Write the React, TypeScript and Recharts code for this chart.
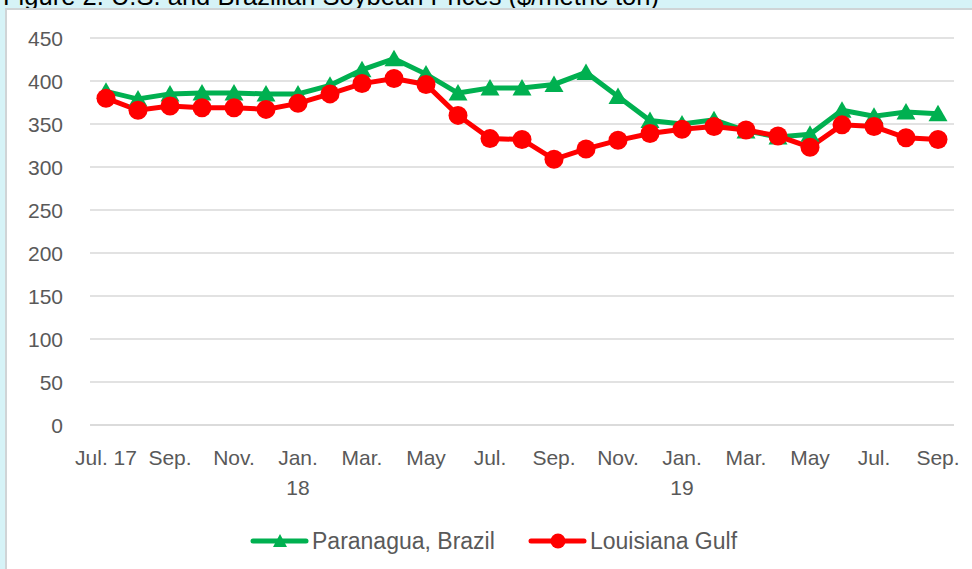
import React from "react";
import { LineChart, Line, XAxis, YAxis, CartesianGrid } from "recharts";

const categories = [
  "Jul. 17", "Aug. 17", "Sep. 17", "Oct. 17", "Nov. 17", "Dec. 17",
  "Jan. 18", "Feb. 18", "Mar. 18", "Apr. 18", "May 18", "Jun. 18",
  "Jul. 18", "Aug. 18", "Sep. 18", "Oct. 18", "Nov. 18", "Dec. 18",
  "Jan. 19", "Feb. 19", "Mar. 19", "Apr. 19", "May 19", "Jun. 19",
  "Jul. 19", "Aug. 19", "Sep. 19",
];

const tickLine1 = [
  "Jul. 17", "Aug.", "Sep.", "Oct.", "Nov.", "Dec.",
  "Jan.", "Feb.", "Mar.", "Apr.", "May", "Jun.",
  "Jul.", "Aug.", "Sep.", "Oct.", "Nov.", "Dec.",
  "Jan.", "Feb.", "Mar.", "Apr.", "May", "Jun.",
  "Jul.", "Aug.", "Sep.",
];
const tickLine2 = [
  "", "", "", "", "", "",
  "18", "", "", "", "", "",
  "", "", "", "", "", "",
  "19", "", "", "", "", "",
  "", "", "",
];

const paranagua = [388, 379, 385, 386, 386, 385, 385, 395, 413, 426, 408, 386, 392, 392, 396, 410, 382, 354, 350, 355, 342, 335, 338, 366, 359, 364, 362];
const louisiana = [380, 366, 371, 369, 369, 367, 374, 385, 397, 403, 396, 360, 333, 332, 309, 321, 331, 339, 344, 347, 343, 336, 323, 349, 347, 334, 332];

const yTicks = [0, 50, 100, 150, 200, 250, 300, 350, 400, 450];

const GREEN = "#00b050";
const RED = "#ff0000";
const TEXT = "#595959";
const FONT = "'Liberation Sans', Arial, sans-serif";

const data = categories.map((c, i) => ({
  cat: c,
  paranagua: paranagua[i],
  louisiana: louisiana[i],
}));

const Triangle = (props: any) => {
  const { cx, cy } = props;
  if (cx == null || cy == null) return null;
  return (
    <path
      d={`M${cx},${cy - 9} L${cx + 9.5},${cy + 7.5} L${cx - 9.5},${cy + 7.5} Z`}
      fill={GREEN}
      stroke="none"
    />
  );
};

const Circle = (props: any) => {
  const { cx, cy } = props;
  if (cx == null || cy == null) return null;
  return <circle cx={cx} cy={cy} r={9.5} fill={RED} stroke="none" />;
};

const XTick = (props: any) => {
  const { x, y, payload } = props;
  const i = payload.index;
  return (
    <g>
      <text x={x} y={y + 32} textAnchor="middle" fill={TEXT} fontSize={21} fontFamily={FONT}>
        {tickLine1[i]}
      </text>
      {tickLine2[i] ? (
        <text x={x} y={y + 62} textAnchor="middle" fill={TEXT} fontSize={21} fontFamily={FONT}>
          {tickLine2[i]}
        </text>
      ) : null}
    </g>
  );
};

const YTick = (props: any) => {
  const { y, payload } = props;
  return (
    <text x={63} y={y + 7.5} textAnchor="end" fill={TEXT} fontSize={21} fontFamily={FONT}>
      {payload.value}
    </text>
  );
};

const legendItems = [
  { name: "Paranagua, Brazil", color: GREEN, marker: "triangle", left: 250 },
  { name: "Louisiana Gulf", color: RED, marker: "circle", left: 528 },
];

export default function App() {
  return (
    <div
      style={{
        position: "absolute",
        left: 0,
        top: 0,
        width: 972,
        height: 569,
        background: "#d6f3f7",
        overflow: "hidden",
      }}
    >
      <svg width={972} height={20} style={{ position: "absolute", left: 0, top: 0 }}>
        <text x={3} y={5} fontSize={25} fontFamily={FONT} fill="#000" textLength={656} lengthAdjust="spacingAndGlyphs">
          Figure 2. U.S. and Brazilian Soybean Prices ($/metric ton)
        </text>
      </svg>
      <div
        style={{
          position: "absolute",
          left: 5,
          top: 7.5,
          width: 972,
          height: 569,
          background: "#ffffff",
          borderLeft: "2px solid #cfd4d6",
          borderTop: "2px solid #cfd4d6",
        }}
      />
      <div style={{ position: "absolute", left: 0, top: 0 }}>
        <LineChart
          width={972}
          height={569}
          data={data}
          margin={{ top: 38, right: 18, left: 0, bottom: 0 }}
        >
          <CartesianGrid vertical={false} stroke="#d9d9d9" strokeWidth={1.5} />
          <XAxis
            dataKey="cat"
            interval={1}
            height={144}
            padding={{ left: 16, right: 16 }}
            tickLine={false}
            axisLine={{ stroke: "#d9d9d9", strokeWidth: 1.5 }}
            tick={<XTick />}
          />
          <YAxis
            domain={[0, 450]}
            ticks={yTicks}
            width={90}
            tickLine={false}
            axisLine={false}
            tick={<YTick />}
            interval={0}
          />
          <Line
            type="linear"
            dataKey="paranagua"
            name="Paranagua, Brazil"
            stroke={GREEN}
            strokeWidth={5}
            dot={<Triangle />}
            activeDot={false}
            isAnimationActive={false}
          />
          <Line
            type="linear"
            dataKey="louisiana"
            name="Louisiana Gulf"
            stroke={RED}
            strokeWidth={5}
            dot={<Circle />}
            activeDot={false}
            isAnimationActive={false}
          />
        </LineChart>
      </div>
      {legendItems.map((it) => (
        <div
          key={it.name}
          style={{
            position: "absolute",
            left: it.left,
            top: 529,
            height: 24,
            display: "flex",
            alignItems: "center",
            fontFamily: FONT,
            fontSize: 23,
            color: TEXT,
            whiteSpace: "nowrap",
          }}
        >
          <svg width={60} height={24}>
            <line x1={3} y1={12} x2={56} y2={12} stroke={it.color} strokeWidth={5} strokeLinecap="round" />
            {it.marker === "triangle" ? (
              <path d="M30,5 L37,18 L23,18 Z" fill={it.color} />
            ) : (
              <circle cx={30} cy={12} r={7.5} fill={it.color} />
            )}
          </svg>
          <span style={{ lineHeight: "24px", marginLeft: 2 }}>{it.name}</span>
        </div>
      ))}
    </div>
  );
}
